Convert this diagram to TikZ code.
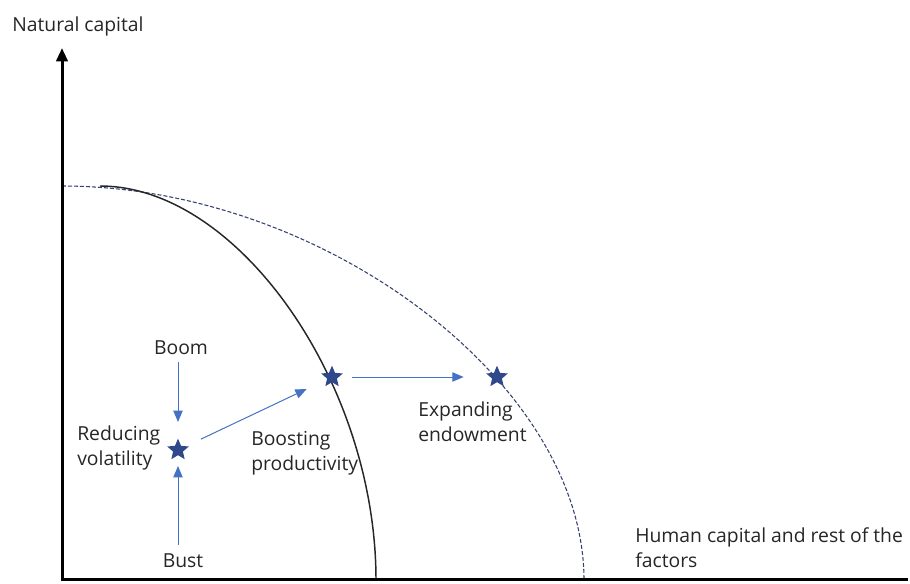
\documentclass[tikz,border=0pt]{standalone}
\usepackage{fontspec}
\setmainfont{Open Sans}
\usetikzlibrary{positioning}
\usetikzlibrary{shapes.geometric}
\usetikzlibrary{arrows.meta}

\definecolor{txtgray}{RGB}{38,38,38}
\definecolor{arrowblue}{RGB}{68,114,196}
\definecolor{starblue}{RGB}{47,72,140}
\definecolor{frontier}{RGB}{55,65,110}

\tikzset{
  lbl/.style={inner sep=0pt,text=txtgray,align=left,font=\fontsize{14.5}{18.75}\selectfont},
  endowstar/.style={star,star points=5,star point ratio=2.2,minimum size=17pt,inner sep=0pt,fill=starblue},
  shiftarrow/.style={draw=arrowblue,line width=0.75pt,-{Triangle[length=8.5pt,width=7pt]}},
}

\begin{document}
\begin{tikzpicture}[x=0.75pt,y=-0.75pt]
\useasboundingbox (0,0) rectangle (910,583);
% frontiers
\draw[frontier,line width=0.8pt,dash pattern=on 3pt off 1.5pt] (62,186) .. controls (323,186) and (584,383) .. (584,580);
\draw[txtgray,line width=1.1pt] (100,186) .. controls (238,186) and (376,383) .. (376,580);
% axes
\coordinate (o) at (62,579);
\coordinate (ytop) at (62,48);
\coordinate (xend) at (908,579);
\draw[line width=2.25pt,-{Triangle[length=10pt,width=8.5pt]}] (xend) -- (o) -- (ytop);
\node[lbl,anchor=base west] (ylab) at (12,31) {Natural capital};
\node[lbl,anchor=base west] (xlab) at (635,567) {Human capital and rest of the\\factors};
% stars
\node[endowstar] (vol) at (178,450) {};
\node[endowstar] (prod) at (332,377) {};
\node[endowstar] (endow) at (497,377) {};
\node[lbl,anchor=base] (boom) at (181,354) {Boom};
\node[lbl,anchor=base] (bust) at (183,567) {Bust};
\node[lbl,anchor=base west] (vollab) at (77,465) {Reducing\\volatility};
\node[lbl,anchor=base west] (prodlab) at (251,470) {Boosting\\productivity};
\node[lbl,anchor=base west] (endowlab) at (418,441) {Expanding\\endowment};
% shifts
\draw[shiftarrow,shorten <=6pt,shorten >=21pt] (boom.south -| vol) -- (vol.center);
\draw[shiftarrow,shorten <=6pt,shorten >=12pt] (bust.north -| vol) -- (vol.center);
\draw[shiftarrow,shorten <=19pt,shorten >=21pt] (vol.center) -- (prod.center);
\draw[shiftarrow,shorten <=15pt,shorten >=25pt] (prod.center) -- (endow.center);
\end{tikzpicture}
\end{document}
